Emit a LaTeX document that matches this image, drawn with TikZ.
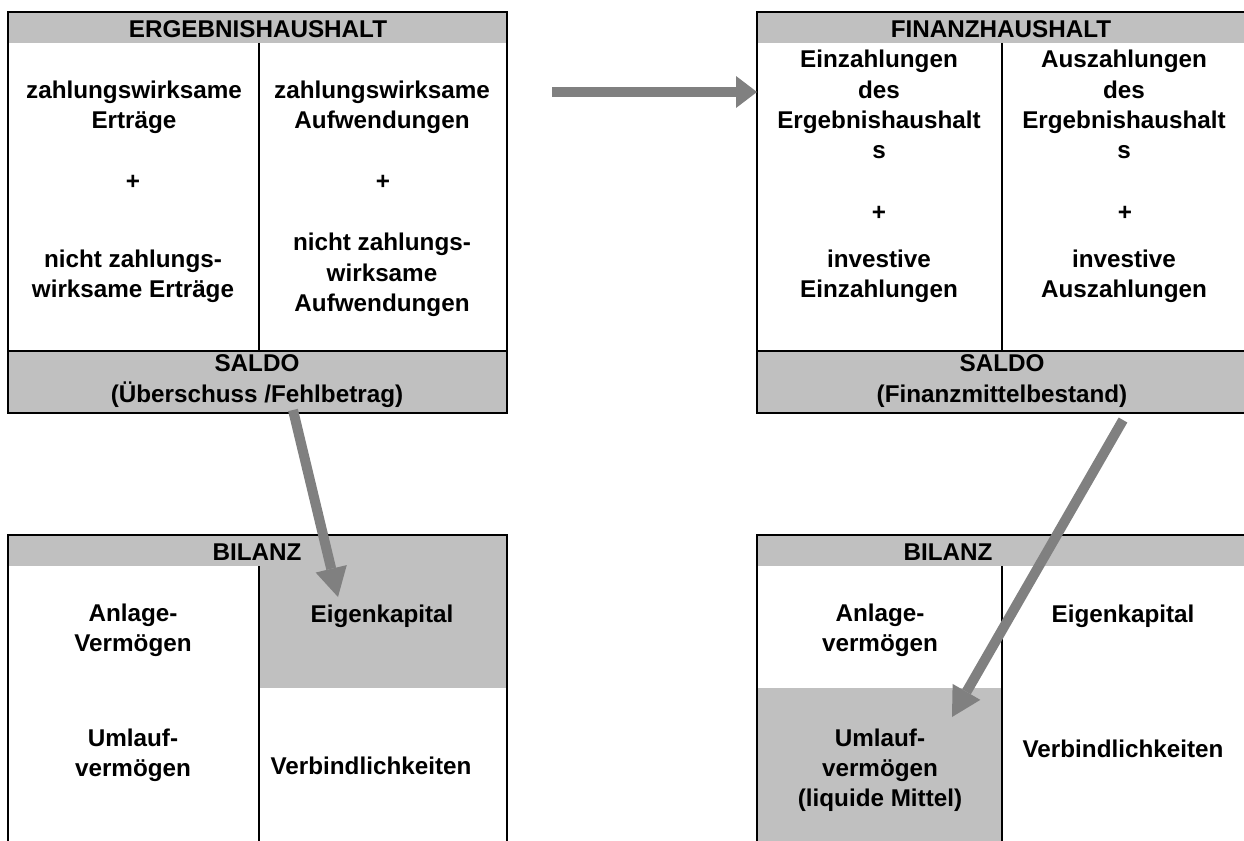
\documentclass[tikz,border=0pt]{standalone}
\usepackage{fontspec}
\setmainfont{Liberation Sans}
\usetikzlibrary{arrows.meta}
\definecolor{bandgrey}{HTML}{C0C0C0}
\definecolor{arrowgrey}{HTML}{808080}
\tikzset{
  txt/.style={align=center, inner sep=0pt, font=\fontsize{13.8}{17.2}\selectfont\bfseries},
  boxline/.style={line width=1.2pt},
  flowarrow/.style={arrowgrey, line width=0.2cm,
    -{Triangle[length=#1,width=0.64cm,line width=0pt]}},
  flowarrow/.default=0.42cm,
}
\begin{document}
\begin{tikzpicture}[x=0.02cm,y=-0.02cm]
    \useasboundingbox (0,0) rectangle (1244,841);
    \clip (0,0) rectangle (1244,841);
    % grey bands
    \fill[bandgrey] (8,12) rectangle (507,43);
    \fill[bandgrey] (8,351) rectangle (507,413);
    \fill[bandgrey] (757,12) rectangle (1260,43);
    \fill[bandgrey] (757,351) rectangle (1260,413);
    \fill[bandgrey] (8,535) rectangle (507,566);
    \fill[bandgrey] (259,566) rectangle (507,688);
    \fill[bandgrey] (757,535) rectangle (1260,566);
    \fill[bandgrey] (757,688) rectangle (1002,860);
    % frames
    \draw[boxline] (8,12) rectangle (507,413);
    \draw[boxline] (8,351) -- (507,351);
    \draw[boxline] (259,43) -- (259,351);
    \draw[boxline] (1260,12) -- (757,12) -- (757,413) -- (1260,413);
    \draw[boxline] (757,351) -- (1260,351);
    \draw[boxline] (1002,43) -- (1002,351);
    \draw[boxline] (8,860) -- (8,535) -- (507,535) -- (507,860);
    \draw[boxline] (259,566) -- (259,860);
    \draw[boxline] (757,860) -- (757,535) -- (1260,535);
    \draw[boxline] (1002,566) -- (1002,860);

    % Ergebnishaushalt
    \node[txt] (ergHead) at (258,29.5) {ERGEBNISHAUSHALT};
    \node[txt] (ergErtr) at (134,107) {zahlungswirksame\\Erträge};
    \node[txt] (ergPlusL) at (133,182) {+};
    \node[txt] (ergNErtr) at (133,276) {nicht zahlungs-\\wirksame Erträge};
    \node[txt] (ergAufw) at (382,107) {zahlungswirksame\\Aufwendungen};
    \node[txt] (ergPlusR) at (383,182) {+};
    \node[txt] (ergNAufw) at (382,275) {nicht zahlungs-\\wirksame\\Aufwendungen};
    \node[txt] (ergSaldo) at (257,381) {SALDO\\(Überschuss /Fehlbetrag)};

    % Finanzhaushalt
    \node[txt] (finHead) at (1001,29.5) {FINANZHAUSHALT};
    \node[txt] (finEin) at (879,104.5) {Einzahlungen\\des\\Ergebnishaushalt\\s};
    \node[txt] (finPlusL) at (879,213) {+};
    \node[txt] (finInvEin) at (879,276) {investive\\Einzahlungen};
    \node[txt] (finAus) at (1124,104.5) {Auszahlungen\\des\\Ergebnishaushalt\\s};
    \node[txt] (finPlusR) at (1125,213) {+};
    \node[txt] (finInvAus) at (1124,276) {investive\\Auszahlungen};
    \node[txt] (finSaldo) at (1002,381) {SALDO\\(Finanzmittelbestand)};

    % Bilanz links
    \node[txt] (bilHeadL) at (257,552.5) {BILANZ};
    \node[txt] (bilAnlL) at (133,630.5) {Anlage-\\Vermögen};
    \node[txt] (bilEigL) at (382,616) {Eigenkapital};
    \node[txt] (bilUmlL) at (133,755) {Umlauf-\\vermögen};
    \node[txt] (bilVerbL) at (371,766) {Verbindlichkeiten};

    % Bilanz rechts
    \node[txt] (bilHeadR) at (948,552.5) {BILANZ};
    \node[txt] (bilAnlR) at (880,630.5) {Anlage-\\vermögen};
    \node[txt] (bilEigR) at (1123,616) {Eigenkapital};
    \node[txt] (bilUmlR) at (880,770) {Umlauf-\\vermögen\\(liquide Mittel)};
    \node[txt] (bilVerbR) at (1123,749) {Verbindlichkeiten};

    % arrows
    \coordinate (ergOut) at (552,92);
    \coordinate (finIn) at (757,92);
    \coordinate (ergSaldoOut) at (293,410);
    \coordinate (eigIn) at (338,597);
    \coordinate (finSaldoOut) at (1123,420);
    \coordinate (umlIn) at (952,717);
    \draw[flowarrow] (ergOut) -- (finIn);
    \draw[flowarrow=0.58cm] (ergSaldoOut) -- (eigIn);
    \draw[flowarrow=0.58cm] (finSaldoOut) -- (umlIn);
\end{tikzpicture}
\end{document}
